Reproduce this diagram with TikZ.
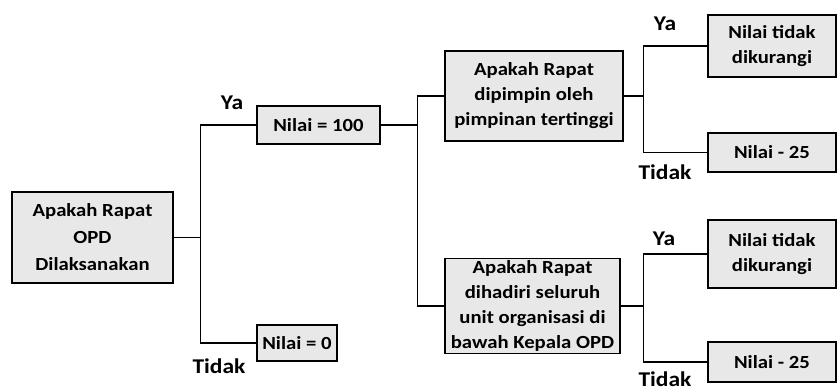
\documentclass[tikz,border=0pt]{standalone}
\usepackage{fontspec}
\setsansfont{Carlito}[FakeStretch=1.12]
\usetikzlibrary{calc}

\begin{document}
\begin{tikzpicture}[
  x=1pt,y=-1pt,
  box/.style={draw,line width=1.3pt,fill=gray!18,align=center,inner sep=2pt,
    font=\sffamily\bfseries\fontsize{18.5}{25}\selectfont},
  answer/.style={font=\sffamily\bfseries\fontsize{21}{22}\selectfont,inner sep=0pt},
  link/.style={line width=1.2pt}
]
  \useasboundingbox (0,0) rectangle (838,391);

  % question and value boxes
  \node[box,minimum width=161pt,minimum height=91pt,font=\sffamily\bfseries\fontsize{18.5}{27}\selectfont]
    (rapat) at (92.5,237.5) {Apakah Rapat\\OPD\\Dilaksanakan};
  \node[box,minimum width=123pt,minimum height=38pt] (nilai100) at (318.5,125) {Nilai = 100};
  \node[box,minimum width=80pt,minimum height=36pt] (nilai0) at (297,343) {Nilai = 0};
  \node[box,minimum width=178pt,minimum height=90pt] (pimpin) at (534,96) {Apakah Rapat\\dipimpin oleh\\pimpinan tertinggi};
  \node[box,minimum width=175pt,minimum height=94pt] (hadir) at (532.5,306) {Apakah Rapat\\dihadiri seluruh\\unit organisasi di\\bawah Kepala OPD};
  \node[box,minimum width=128pt,minimum height=62pt] (tetapA) at (772,46) {Nilai tidak\\dikurangi};
  \node[box,minimum width=128pt,minimum height=39pt] (kurangA) at (772,152.5) {Nilai - 25};
  \node[box,minimum width=128pt,minimum height=68pt] (tetapB) at (772,254) {Nilai tidak\\dikurangi};
  \node[box,minimum width=128pt,minimum height=40pt] (kurangB) at (772,362) {Nilai - 25};

  % branches
  \draw[link] (rapat.east) -- ++(27,0) coordinate (jRapat);
  \draw[link] (nilai100.west) -| (jRapat) |- (nilai0.west);
  \draw[link] (nilai100.east) -- ++(37,0) coordinate (jNilai);
  \draw[link] (pimpin.west) -| (jNilai) |- (hadir.west);
  \draw[link] (pimpin.east) -- ++(20,0) coordinate (jPimpin);
  \draw[link] (tetapA.west) -| (jPimpin) |- (kurangA.west);
  \draw[link] (hadir.east) -- ++(23,0) coordinate (jHadir);
  \draw[link] (tetapB.west) -| (jHadir) |- (kurangB.west);

  % answer labels
  \node[answer] (ya1) at (232,103) {Ya};
  \node[answer] (tidak1) at (219,366) {Tidak};
  \node[answer] (ya2) at (665,24) {Ya};
  \node[answer] (tidak2) at (665,172) {Tidak};
  \node[answer] (ya3) at (664,239) {Ya};
  \node[answer] (tidak3) at (665,379) {Tidak};
\end{tikzpicture}
\end{document}
